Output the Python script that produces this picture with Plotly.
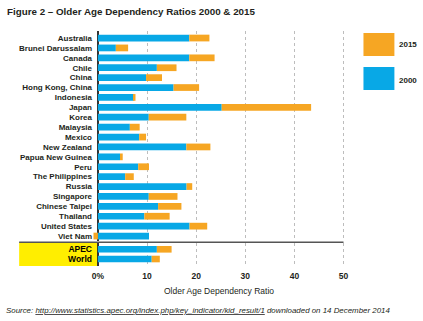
import plotly.graph_objects as go

# ---- data ----
countries = ["Australia", "Brunei Darussalam", "Canada", "Chile", "China",
             "Hong Kong, China", "Indonesia", "Japan", "Korea", "Malaysia",
             "Mexico", "New Zealand", "Papua New Guinea", "Peru",
             "The Philippines", "Russia", "Singapore", "Chinese Taipei",
             "Thailand", "United States", "Viet Nam"]
ratio_2000 = [18.6, 3.65, 18.6, 12.0, 9.8, 15.4, 7.3, 25.2, 10.35, 6.5,
              8.4, 18.0, 4.5, 8.2, 5.55, 18.05, 10.35, 12.25, 9.45, 18.65, 10.4]
ratio_2015 = [22.7, 6.15, 23.75, 16.0, 13.05, 20.6, 7.65, 43.4, 18.0, 8.5,
              9.8, 22.9, 5.05, 10.4, 7.3, 19.2, 16.2, 17.0, 14.6, 22.25, 9.5]

aggregates = ["APEC", "World"]
agg_2000 = [12.0, 10.95]
agg_2015 = [15.0, 12.6]

x_tickvals = [0, 10, 20, 30, 40, 50]
x_ticktext = ["0%", "10", "20", "30", "40", "50"]

BLUE = "#08A8E6"
ORANGE = "#F6A623"
TEXT = "#231F20"
FONT = "Liberation Sans, Arial, sans-serif"

# ---- layout geometry (pixels) ----
W, H = 423, 321
L, R, T, B = 93, 345.5, 31, 266


def px2x(px):
    return (px - L) / (R - L)


def px2y(py):
    return (B - py) / (B - T)


inc = [b - a for a, b in zip(ratio_2000, ratio_2015)]
agg_inc = [b - a for a, b in zip(agg_2000, agg_2015)]

fig = go.Figure()
fig.add_trace(go.Bar(y=countries, x=ratio_2000, orientation="h",
                     marker=dict(color=BLUE, line=dict(width=0)),
                     name="2000", xaxis="x", yaxis="y", showlegend=False))
fig.add_trace(go.Bar(y=countries, x=inc, orientation="h",
                     marker=dict(color=ORANGE, line=dict(width=0)),
                     name="2015", xaxis="x", yaxis="y", showlegend=False))
fig.add_trace(go.Bar(y=aggregates, x=agg_2000, orientation="h",
                     marker=dict(color=BLUE, line=dict(width=0)),
                     name="2000", xaxis="x2", yaxis="y2", showlegend=False))
fig.add_trace(go.Bar(y=aggregates, x=agg_inc, orientation="h",
                     marker=dict(color=ORANGE, line=dict(width=0)),
                     name="2015", xaxis="x2", yaxis="y2", showlegend=False))

xcommon = dict(range=[-1, 50.3], showgrid=True, gridcolor="#BDBDBD",
               griddash="3px,3px", gridwidth=1, zeroline=True,
               zerolinecolor="#333333", zerolinewidth=1.5,
               tickvals=x_tickvals, showline=False, fixedrange=True)

top_dom = [px2y(241), 1]
bot_dom = [0, px2y(243)]

fig.update_layout(
    width=W, height=H,
    margin=dict(l=L, r=W - R, t=T, b=H - B, pad=0),
    paper_bgcolor="white", plot_bgcolor="white",
    barmode="relative", bargap=0.32,
    font=dict(family=FONT, color=TEXT),
    xaxis=dict(**xcommon, anchor="y", showticklabels=False, matches="x2"),
    xaxis2=dict(**xcommon, anchor="y2", ticktext=x_ticktext,
                tickfont=dict(size=8.5, weight="bold", color=TEXT),
                ticks="", ticklabelstandoff=3,
                title=dict(text="Older Age Dependency Ratio",
                           font=dict(size=8.5, color=TEXT),
                           standoff=8)),
    yaxis=dict(domain=top_dom, type="category", range=[20.5, -0.71],
               tickmode="array", tickvals=countries, ticktext=countries,
               tickfont=dict(size=8, weight="bold", color=TEXT),
               ticks="", showgrid=False, fixedrange=True),
    yaxis2=dict(domain=bot_dom, type="category", range=[1.72, -0.65],
                tickmode="array", tickvals=aggregates, ticktext=aggregates,
                tickfont=dict(size=8.5, weight="bold", color="#000000"),
                ticks="", showgrid=False, fixedrange=True),
)

shapes = [
    # yellow box behind aggregate labels
    dict(type="rect", xref="paper", yref="paper",
         x0=px2x(19), x1=px2x(97.5), y0=px2y(266), y1=px2y(242.5),
         fillcolor="#FFEE00", line=dict(width=0), layer="below"),
    # separator line
    dict(type="line", xref="paper", yref="paper",
         x0=px2x(19), x1=px2x(344), y0=px2y(242.3), y1=px2y(242.3),
         line=dict(color="#555555", width=1.5)),
    # legend swatches
    dict(type="rect", xref="paper", yref="paper",
         x0=px2x(364), x1=px2x(395), y0=px2y(56), y1=px2y(33),
         fillcolor=ORANGE, line=dict(width=0)),
    dict(type="rect", xref="paper", yref="paper",
         x0=px2x(364), x1=px2x(395), y0=px2y(90), y1=px2y(67),
         fillcolor=BLUE, line=dict(width=0)),
]
fig.update_layout(shapes=shapes)

annotations = [
    dict(text="<b>Figure 2 – Older Age Dependency Ratios 2000 & 2015</b>",
         xref="paper", yref="paper", x=px2x(5), y=px2y(11),
         xanchor="left", yanchor="middle", showarrow=False,
         font=dict(size=9.8, color=TEXT)),
    dict(text="<b>2015</b>", xref="paper", yref="paper", x=px2x(398),
         y=px2y(45), xanchor="left", yanchor="middle", showarrow=False,
         font=dict(size=8, color=TEXT)),
    dict(text="<b>2000</b>", xref="paper", yref="paper", x=px2x(398),
         y=px2y(80), xanchor="left", yanchor="middle", showarrow=False,
         font=dict(size=8, color=TEXT)),
    dict(text=("<i>Source: <span style=\"text-decoration:underline\">"
               "http://www.statistics.apec.org/index.php/key_indicator/kid_result/1"
               "</span> downloaded on 14 December 2014</i>"),
         xref="paper", yref="paper", x=px2x(4), y=px2y(310),
         xanchor="left", yanchor="middle", showarrow=False,
         font=dict(size=7.9, color=TEXT)),
]
fig.update_layout(annotations=annotations)

fig.write_html("out.html", config={"displayModeBar": False})
